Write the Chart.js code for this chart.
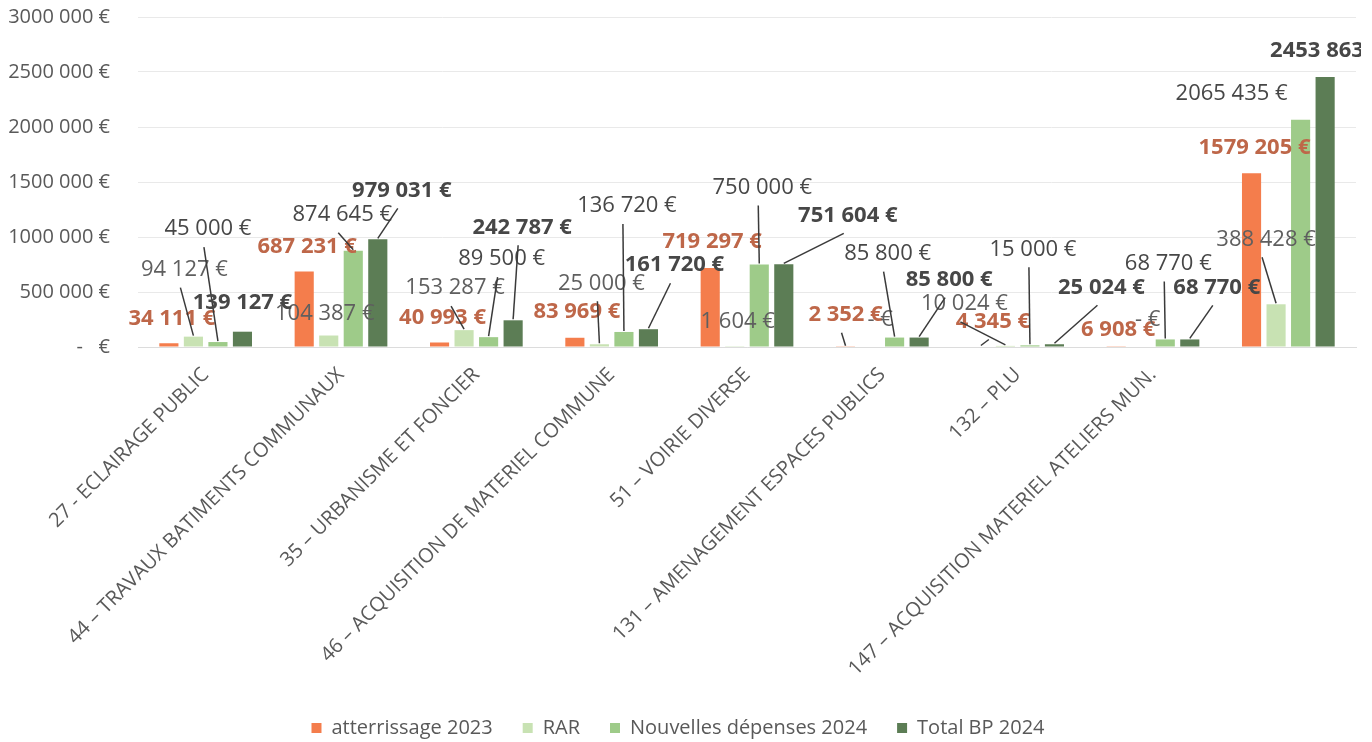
<!DOCTYPE html>
<html>
<head>
<meta charset="utf-8">
<script src="https://cdn.jsdelivr.net/npm/chart.js@4"></script>
<style>
  html, body { margin: 0; padding: 0; background: #fff; }
  #wrap { width: 1372px; height: 742px; }
</style>
</head>
<body>
<div id="wrap"><canvas id="budgetChart" width="1372" height="742"></canvas></div>
<script>
// categories (the last group has no label in the original)
const categories = [
    '27 - ECLAIRAGE PUBLIC',
    '44 – TRAVAUX BATIMENTS COMMUNAUX',
    '35 – URBANISME ET FONCIER',
    '46 – ACQUISITION DE MATERIEL COMMUNE',
    '51 – VOIRIE DIVERSE',
    '131 – AMENAGEMENT ESPACES PUBLICS',
    '132 – PLU',
    '147 – ACQUISITION MATERIEL ATELIERS MUN.',
    ''
];
const seriesNames = ['atterrissage 2023', 'RAR', 'Nouvelles dépenses 2024', 'Total BP 2024'];
const atterrissage = [34111, 687231, 40993, 83969, 719297, 2352, 4345, 6908, 1579205];
const rar = [94127, 104387, 153287, 25000, 1604, 0, 10024, 0, 388428];
const nouvelles = [45000, 874645, 89500, 136720, 750000, 85800, 15000, 68770, 2065435];
const totalBP = [139127, 979031, 242787, 161720, 751604, 85800, 25024, 68770, 2453863];
const yTicks = [0, 500000, 1000000, 1500000, 2000000, 2500000, 3000000];

const barColors = ['#F47D4C', '#C8E2B3', '#9ECB89', '#5C7D55'];

// where each data label sits, relative to the top of its bar (px), and whether it has a leader line
const labelOffsets = [
    [[3, -25], [3, -25], [3, -25], [2, -26], [2, -26], [0, -32], [12, -25], [2, -17], [3, -26]],
    [[-9, -67], [-4, -22], [-9, -42], [2, -61], [3, -25], [10, -27], [-41, -42], [7, -27], [-10, -65]],
    [[-10, -113], [-11, -36], [13, -78], [3, -126], [3, -77], [-7, -84], [3, -96], [3, -76], [-69, -26]],
    [[0, -29], [24, -49], [9, -93], [26, -64], [64, -49], [30, -58], [47, -57], [27, -52], [1, -26]]
];
const leaders = [
    [0, 0, 0, 0, 0, 1, 1, 0, 0],
    [1, 0, 1, 1, 0, 0, 1, 0, 1],
    [1, 1, 1, 1, 1, 1, 1, 1, 0],
    [0, 1, 1, 1, 1, 1, 1, 1, 0]
];
const labelStyles = [
    { color: '#BE6749', weight: 'bold' },
    { color: '#5f5f5f', weight: 'normal' },
    { color: '#474747', weight: 'normal' },
    { color: '#474747', weight: 'bold' }
];

const FONT = "'Open Sans', 'DejaVu Sans', sans-serif";

function euro(v) {
    if (v === 0) return '- €';
    let s = v >= 1000 ? Math.floor(v / 1000) + ' ' + String(v % 1000).padStart(3, '0') : String(v);
    return s + ' €';
}

const barLabels = {
    id: 'barLabels',
    afterDatasetsDraw(chart) {
        const ctx = chart.ctx;
        ctx.save();
        ctx.beginPath();
        ctx.rect(0, 0, 1361, chart.height);
        ctx.clip();
        chart.data.datasets.forEach((ds, i) => {
            const meta = chart.getDatasetMeta(i);
            meta.data.forEach((bar, j) => {
                const x = bar.x + labelOffsets[i][j][0];
                const y = bar.y + labelOffsets[i][j][1];
                if (leaders[i][j]) {
                    ctx.strokeStyle = '#3a3a3a';
                    ctx.lineWidth = 1.5;
                    ctx.beginPath();
                    ctx.moveTo(x - 4, y + 18);
                    ctx.lineTo(bar.x, bar.y - 1);
                    ctx.stroke();
                }
                const st = labelStyles[i];
                ctx.font = st.weight + ' 22px ' + FONT;
                ctx.fillStyle = st.color;
                ctx.textAlign = 'center';
                ctx.textBaseline = 'middle';
                ctx.fillText(euro(ds.data[j]), x, y);
            });
        });
        ctx.restore();
    }
};

const ctx = document.getElementById('budgetChart').getContext('2d');
new Chart(ctx, {
    type: 'bar',
    data: {
        labels: categories,
        datasets: [
            { label: seriesNames[0], data: atterrissage, backgroundColor: barColors[0] },
            { label: seriesNames[1], data: rar, backgroundColor: barColors[1] },
            { label: seriesNames[2], data: nouvelles, backgroundColor: barColors[2] },
            { label: seriesNames[3], data: totalBP, backgroundColor: barColors[3] }
        ]
    },
    options: {
        responsive: false,
        animation: false,
        layout: { padding: { top: 17, right: 16, left: 0, bottom: -6 } },
        datasets: { bar: { categoryPercentage: 0.725, barPercentage: 0.78 } },
        plugins: {
            legend: {
                position: 'bottom',
                labels: {
                    boxWidth: 10,
                    boxHeight: 10,
                    padding: 30,
                    color: '#595959',
                    font: { family: FONT, size: 20 }
                }
            },
            tooltip: { enabled: false }
        },
        scales: {
            x: {
                grid: { display: false },
                border: { color: '#dcdcdc' },
                ticks: {
                    maxRotation: 45,
                    minRotation: 45,
                    autoSkip: false,
                    padding: 8,
                    color: '#595959',
                    font: { family: FONT, size: 20 }
                },
                afterFit: (scale) => { scale.height = 341; }
            },
            y: {
                min: 0,
                max: 3000000,
                border: { display: false },
                grid: { color: '#e9e9e9', drawTicks: false },
                afterBuildTicks: (scale) => { scale.ticks = yTicks.map(v => ({ value: v })); },
                ticks: {
                    padding: 28,
                    color: '#595959',
                    font: { family: FONT, size: 20 },
                    callback: (v) => v === 0 ? '-   €' : euro(v)
                },
                afterFit: (scale) => {
                    scale.width = 138;
                    scale.paddingTop = 0;
                    scale.paddingBottom = 0;
                }
            }
        }
    },
    plugins: [barLabels]
});
</script>
</body>
</html>
